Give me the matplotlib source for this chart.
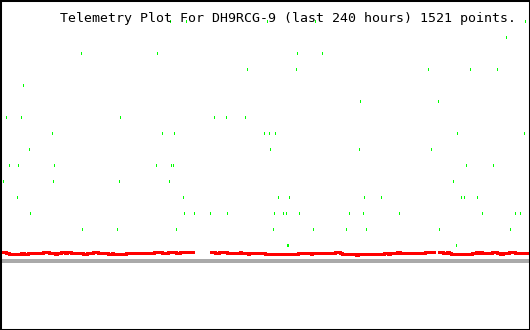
import numpy as np
import matplotlib
matplotlib.use("Agg")
import matplotlib.pyplot as plt

# time axis in plot slots (0..530 spans the 240 hours), values in plot units
title = "Telemetry Plot For DH9RCG-9 (last 240 hours) 1521 points."

# green telemetry samples, grouped by level
green_levels = [309, 293, 277, 261, 245, 229, 213, 197, 181, 165, 149, 133, 117, 101, 85]
green_times = [
    [169, 185, 266, 314, 524],
    [505],
    [80, 156, 296, 321],
    [246, 295, 427, 469, 496],
    [22],
    [359, 437],
    [5, 20, 119, 213, 225, 244],
    [51, 161, 173, 263, 268, 274, 456, 523],
    [28, 269, 358, 430],
    [8, 17, 53, 155, 170, 172, 465, 492],
    [2, 52, 118, 168, 452],
    [16, 182, 277, 288, 363, 380, 460, 463, 476],
    [29, 183, 193, 209, 226, 273, 282, 285, 298, 348, 362, 398, 481, 514, 519],
    [81, 116, 175, 272, 312, 345, 365, 438, 509],
    [286, 287, 455],
]

# red trace (step changes), nan = no data
red_t = [1, 6, 9, 21, 24, 28, 43, 49, 55, 57, 61, 65, 67, 71, 83, 87, 93, 97, 98,
         108, 112, 113, 126, 154, 162, 168, 176, 180, 193,
         211, 215, 219, 227, 240, 241, 248, 249, 265,
         298, 311, 312, 335, 340, 342, 356, 358, 384, 388, 390, 397, 400, 425, 434,
         439, 443, 447, 449, 451, 472, 476, 478, 480, 482, 492, 497, 500, 503, 509, 515, 529]
red_v = [78, 77, 76, 77, 76, 77, 78, 77, 76, 77, 78, 77, 78, 77, 76, 77, 78, 78.5, 77,
         76, 77, 76, 77, 78, 77, 78, 77, 78, np.nan,
         78, 77, 78, 77, 78, 77, 76, 77, 76.5,
         77.5, 76, 77, 78, 77, 76, 75.5, 76, 77, 76, 77, 78, 77, 78, np.nan,
         78, 77, 78, 77, 76, 77, 78, 77, 78, 77, 78, 77, 76, 77, 78, 77, 77]

baseline = 69

fig = plt.figure(figsize=(5.3, 3.3), dpi=100)
ax = fig.add_axes([0, 0, 1, 1])
ax.set_xlim(0, 530)
ax.set_ylim(0, 330)

ax.axhline(baseline, color="#aaaaaa", lw=1.5, antialiased=False)

ax.plot(red_t, red_v, drawstyle="steps-post", color="#ff0000", lw=2.0,
        antialiased=False, solid_joinstyle="miter")

for lev, ts in zip(green_levels, green_times):
    ts = np.array(ts)
    ax.vlines(ts + 0.5, lev - 1, lev + 1, color="#00ff00", lw=0.72, antialiased=False)

ax.text(60, 308, title, family="DejaVu Sans Mono", fontsize=9.5,
        ha="left", va="baseline", color="black")

ax.set_xticks([])
ax.set_yticks([])
for s in ax.spines.values():
    s.set_linewidth(2.2)
    s.set_color("black")

fig.savefig("out.png", dpi=100, facecolor="white")
